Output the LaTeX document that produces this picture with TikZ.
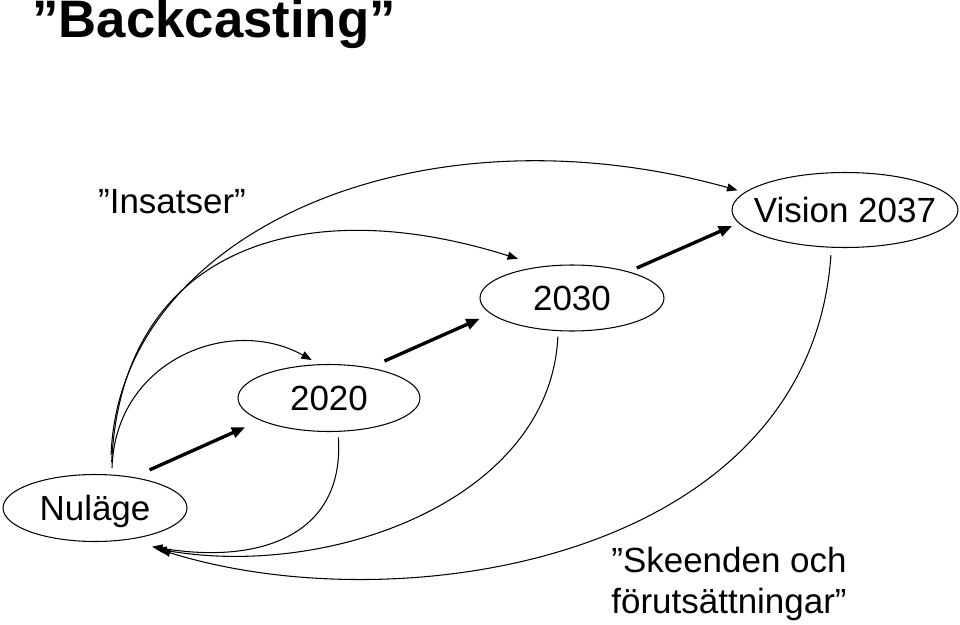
\documentclass[tikz,border=0pt]{standalone}
\usepackage{fontspec}
\setmainfont{Liberation Sans}
\usetikzlibrary{shapes.geometric,arrows.meta}
\tikzset{
  year/.style={ellipse,draw,line width=0.6pt,inner sep=0pt,outer sep=0pt,
               minimum width=3.68cm,minimum height=1.34cm,
               text height=0.5cm,text depth=0pt,font=\fontsize{19.9}{24}\selectfont},
  lbl/.style={font=\fontsize{19.9}{23.3}\selectfont,align=center},
  leap/.style={-{Triangle[length=2.7mm,width=2.1mm]},line width=1.9pt},
  act/.style={-{Triangle[length=2.1mm,width=1.6mm]},line width=0.6pt},
  cond/.style={-{Triangle[length=2.1mm,width=1.6mm]},line width=0.6pt},
}

\begin{document}
\begin{tikzpicture}[x={(0.02cm,0)},y={(0,-0.02cm)}]
\useasboundingbox (0,0) rectangle (960,625);
\node[anchor=base,font=\fontsize{30}{33}\selectfont\bfseries] (title) at (214,38) {”Backcasting”};
\node[lbl,anchor=base] (insatser) at (172,213) {”Insatser”};
\node[lbl] (skeenden) at (729,583.5) {”Skeenden och\\förutsättningar”};

\node[year] (nulage) at (95,508) {\makebox[0pt]{Nuläge}};
\node[year,minimum width=3.64cm] (y2020) at (329,398) {\makebox[0pt]{2020}};
\node[year,minimum height=1.32cm] (y2030) at (572,298) {\makebox[0pt]{2030}};
\node[year,minimum width=4.52cm,minimum height=1.5cm] (vision) at (845,210) {\makebox[0pt]{Vision 2037}};

% steps forward
\draw[leap,shorten <=0.37cm,shorten >=0.34cm] (nulage.39) -- (y2020.198);
\draw[leap,shorten <=0.34cm,shorten >=0.25cm] (y2020.37) -- (y2030.191);
\draw[leap,shorten <=0.19cm,shorten >=0.15cm] (y2030.25) -- (vision.187);

% insatser
\draw[act,shorten <=0.14cm,shorten >=0.19cm] (nulage.63) .. controls +(3.5,-115) and +(-90,-50) .. (y2020.105);
\draw[act,shorten <=0.26cm,shorten >=0.52cm] (nulage.64) .. controls +(10.5,-225) and +(-243,-77) .. (y2030.133);
\draw[act,shorten <=0.4cm,shorten >=0.16cm] (nulage.65) .. controls +(8.5,-240) and +(-331,-92) .. (vision.170);

% skeenden och foerutsaettningar
\draw[cond,shorten <=0.12cm] (y2020.-75) .. controls +(7,104) and +(108,18) .. ([shift={(-8,15)}]nulage.south east);
\draw[cond,shorten <=0.12cm] (y2030.-113) .. controls +(-8,169) and +(174,31) .. ([shift={(-4,17)}]nulage.south east);
\draw[cond,shorten <=0.16cm] (vision.-110) .. controls +(-21.5,313) and +(240,75) .. ([shift={(0,18)}]nulage.south east);
\end{tikzpicture}
\end{document}
